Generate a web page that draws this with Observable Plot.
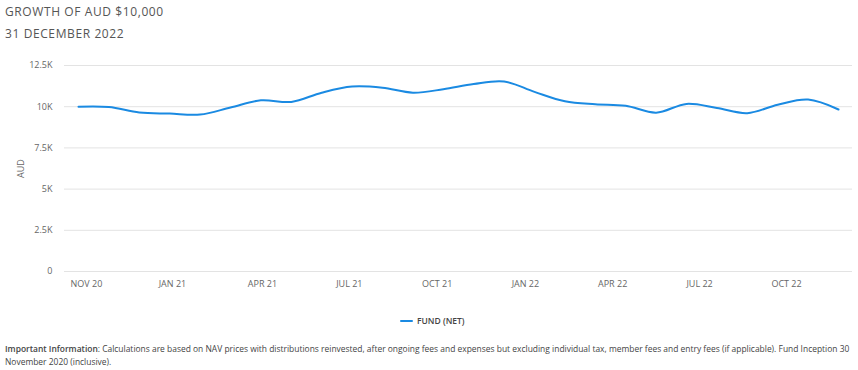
<!DOCTYPE html>
<html>
<head>
<meta charset="utf-8">
<script src="https://cdn.jsdelivr.net/npm/d3@7"></script>
<script src="https://cdn.jsdelivr.net/npm/@observablehq/plot@0.6"></script>
<style>
  html, body { margin: 0; padding: 0; background: #fff; width: 858px; height: 370px; overflow: hidden; }
  #wrap { position: relative; width: 858px; height: 370px; }
  .title { position: absolute; left: 5px; font-family: "Open Sans", sans-serif; font-size: 12px; letter-spacing: 0.6px; color: #555; line-height: 16px; white-space: nowrap; }
  #chart { position: absolute; left: 0; top: 46px; }
  #legend { position: absolute; left: 400px; top: 315px; font-family: "Open Sans", sans-serif; font-size: 8.5px; font-weight: 600; color: #444; display: flex; align-items: center; white-space: nowrap; }
  #legend .sw { width: 13px; height: 2px; background: #1a8ae2; margin-right: 4px; border-radius: 1px; }
  #note { position: absolute; left: 5px; top: 342px; font-family: "Open Sans", sans-serif; font-size: 9.6px; line-height: 13px; color: #444; white-space: nowrap; transform: scaleX(0.88); transform-origin: 0 0; }
  #note b { font-weight: 600; }
</style>
</head>
<body>
<div id="wrap">
  <div class="title" style="top:4px">GROWTH OF AUD $10,000</div>
  <div class="title" style="top:26px">31 DECEMBER 2022</div>
  <div id="chart"></div>
  <div id="legend"><span class="sw"></span><span>FUND (NET)</span></div>
  <div id="note"><b>Important Information</b>: Calculations are based on NAV prices with distributions reinvested, after ongoing fees and expenses but excluding individual tax, member fees and entry fees (if applicable). Fund Inception 30<br>November 2020 (inclusive).</div>
</div>
<script>
// Monthly growth values (AUD), Nov 2020 – Dec 2022
const months = ["2020-11","2020-12","2021-01","2021-02","2021-03","2021-04","2021-05","2021-06","2021-07","2021-08","2021-09","2021-10","2021-11","2021-12","2022-01","2022-02","2022-03","2022-04","2022-05","2022-06","2022-07","2022-08","2022-09","2022-10","2022-11","2022-12"];
const fundNet = [10000, 9980, 9650, 9580, 9520, 9950, 10390, 10290, 10850, 11220, 11150, 10850, 11060, 11380, 11530, 10900, 10330, 10150, 10060, 9640, 10170, 9920, 9610, 10120, 10430, 9830];

// Axis ticks (positions on the month-index scale)
const xTickPos = [0.26, 3.09, 6.05, 8.91, 11.8, 14.7, 17.57, 20.43, 23.29];
const xTickLabels = ["NOV 20","JAN 21","APR 21","JUL 21","OCT 21","JAN 22","APR 22","JUL 22","OCT 22"];
const yTicks = [0, 2500, 5000, 7500, 10000, 12500];
const yTickLabels = ["0","2.5K","5K","7.5K","10K","12.5K"];

const data = fundNet.map((v, i) => ({i, month: months[i], v}));

const chart = Plot.plot({
  width: 858,
  height: 250,
  marginLeft: 64,
  marginRight: 6,
  marginTop: 19,
  marginBottom: 25,
  style: {fontFamily: "'Open Sans', sans-serif", fontSize: "9px", color: "#666", background: "transparent"},
  x: {type: "linear", domain: [0, months.length - 1], insetLeft: 14, insetRight: 14},
  y: {domain: [0, 12500]},
  marks: [
    Plot.gridY(yTicks, {stroke: "#e3e3e3", strokeOpacity: 1, strokeWidth: 1}),
    Plot.axisY(yTicks, {
      tickSize: 0, tickPadding: 12,
      tickFormat: d => yTickLabels[yTicks.indexOf(d)],
      label: "AUD", labelAnchor: "center", labelOffset: 47, labelArrow: "none"
    }),
    Plot.axisX(xTickPos, {
      tickSize: 0, tickPadding: 9,
      tickFormat: d => xTickLabels[xTickPos.indexOf(d)],
      label: null
    }),
    Plot.line(data, {x: "i", y: "v", curve: "catmull-rom", stroke: "#1a8ae2", strokeWidth: 2})
  ]
});
document.getElementById("chart").appendChild(chart);
</script>
</body>
</html>
